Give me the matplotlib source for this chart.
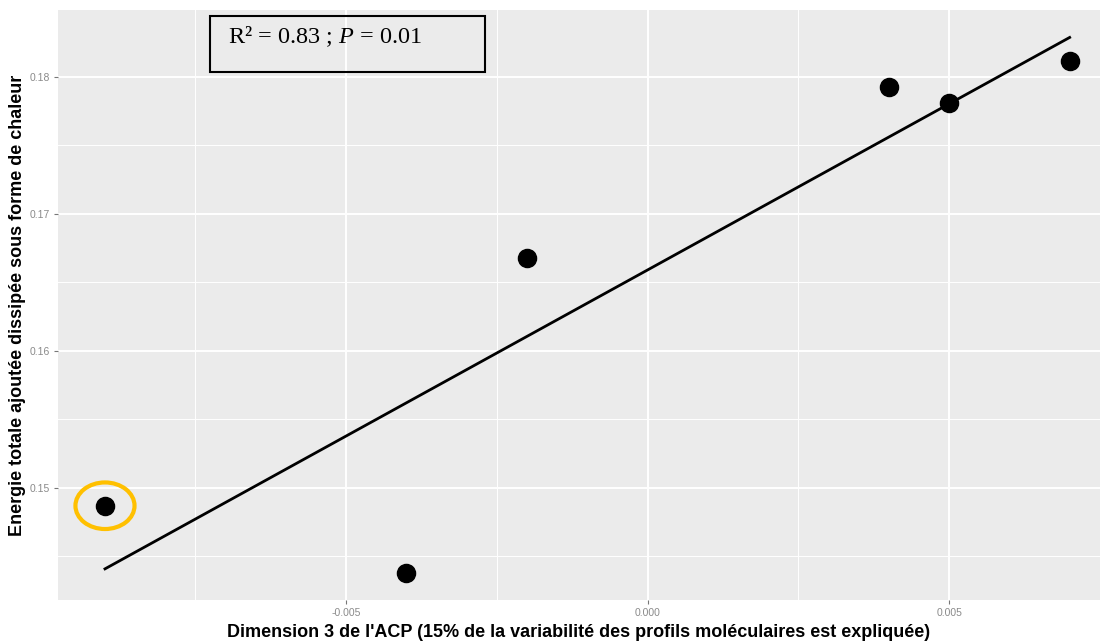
import numpy as np
import matplotlib.pyplot as plt
from matplotlib.patches import Ellipse, Rectangle

# Données
dim3 = [-0.009, -0.004, -0.002, 0.004, 0.005, 0.007]
energie = [0.1487, 0.1438, 0.1668, 0.1793, 0.1781, 0.1812]
x_ticks = [-0.005, 0.000, 0.005]
y_ticks = [0.15, 0.16, 0.17, 0.18]
annotation = 'R² = 0.83 ; $\\mathit{P}$ = 0.01'

plt.rcParams['font.family'] = ['Liberation Sans', 'DejaVu Sans']
plt.rcParams['mathtext.fontset'] = 'custom'
plt.rcParams['mathtext.rm'] = 'Liberation Serif'
plt.rcParams['mathtext.it'] = 'Liberation Serif:italic'

fig = plt.figure(figsize=(11.06, 6.43), dpi=100)
ax = fig.add_axes([0.0524, 0.0669, 0.942, 0.9176])
ax.set_facecolor('#ebebeb')
for s in ax.spines.values():
    s.set_visible(False)

# grille style ggplot
ax.set_xticks(x_ticks)
ax.set_yticks(y_ticks)
ax.set_xticks([-0.0075, -0.0025, 0.0025], minor=True)
ax.set_yticks([0.145, 0.155, 0.165, 0.175], minor=True)
ax.grid(True, which='major', color='white', linewidth=1.4)
ax.grid(True, which='minor', color='white', linewidth=0.7)
ax.set_axisbelow(True)
ax.tick_params(which='minor', length=0)
ax.tick_params(which='major', length=3, width=0.8, color='#777777',
               labelsize=7.5, labelcolor='#8a8a8a', pad=3)
ax.set_xticklabels(['-0.005', '0.000', '0.005'])
ax.set_yticklabels(['0.15', '0.16', '0.17', '0.18'])

# régression linéaire
a, b = np.polyfit(dim3, energie, 1)
xs = np.array([min(dim3), max(dim3)])
ax.plot(xs, a * xs + b, color='black', linewidth=2, zorder=3)

ax.scatter(dim3, energie, s=170, color='black', zorder=4)

# point entouré
ax.add_patch(Ellipse((dim3[0], energie[0]), 0.00098, 0.0034, fill=False,
                     edgecolor='#ffc000', linewidth=3, zorder=5))

ax.set_xlim(-0.00978, 0.0075)
ax.set_ylim(0.14182, 0.18489)

ax.set_xlabel("Dimension 3 de l'ACP (15% de la variabilité des profils moléculaires est expliquée)",
              fontsize=13, fontweight='bold', labelpad=4)
ax.set_ylabel('Energie totale ajoutée dissipée sous forme de chaleur',
              fontsize=13, fontweight='bold', labelpad=2)

# encadré R² / P
ax.add_patch(Rectangle((0.146, 0.895), 0.264, 0.095, transform=ax.transAxes,
                       fill=False, edgecolor='black', linewidth=1.5, zorder=6,
                       clip_on=False))
ax.text(0.163, 0.955, annotation, transform=ax.transAxes, fontsize=17.5,
        family='Liberation Serif', va='center', ha='left', zorder=7)

fig.savefig('out.png', dpi=100)
